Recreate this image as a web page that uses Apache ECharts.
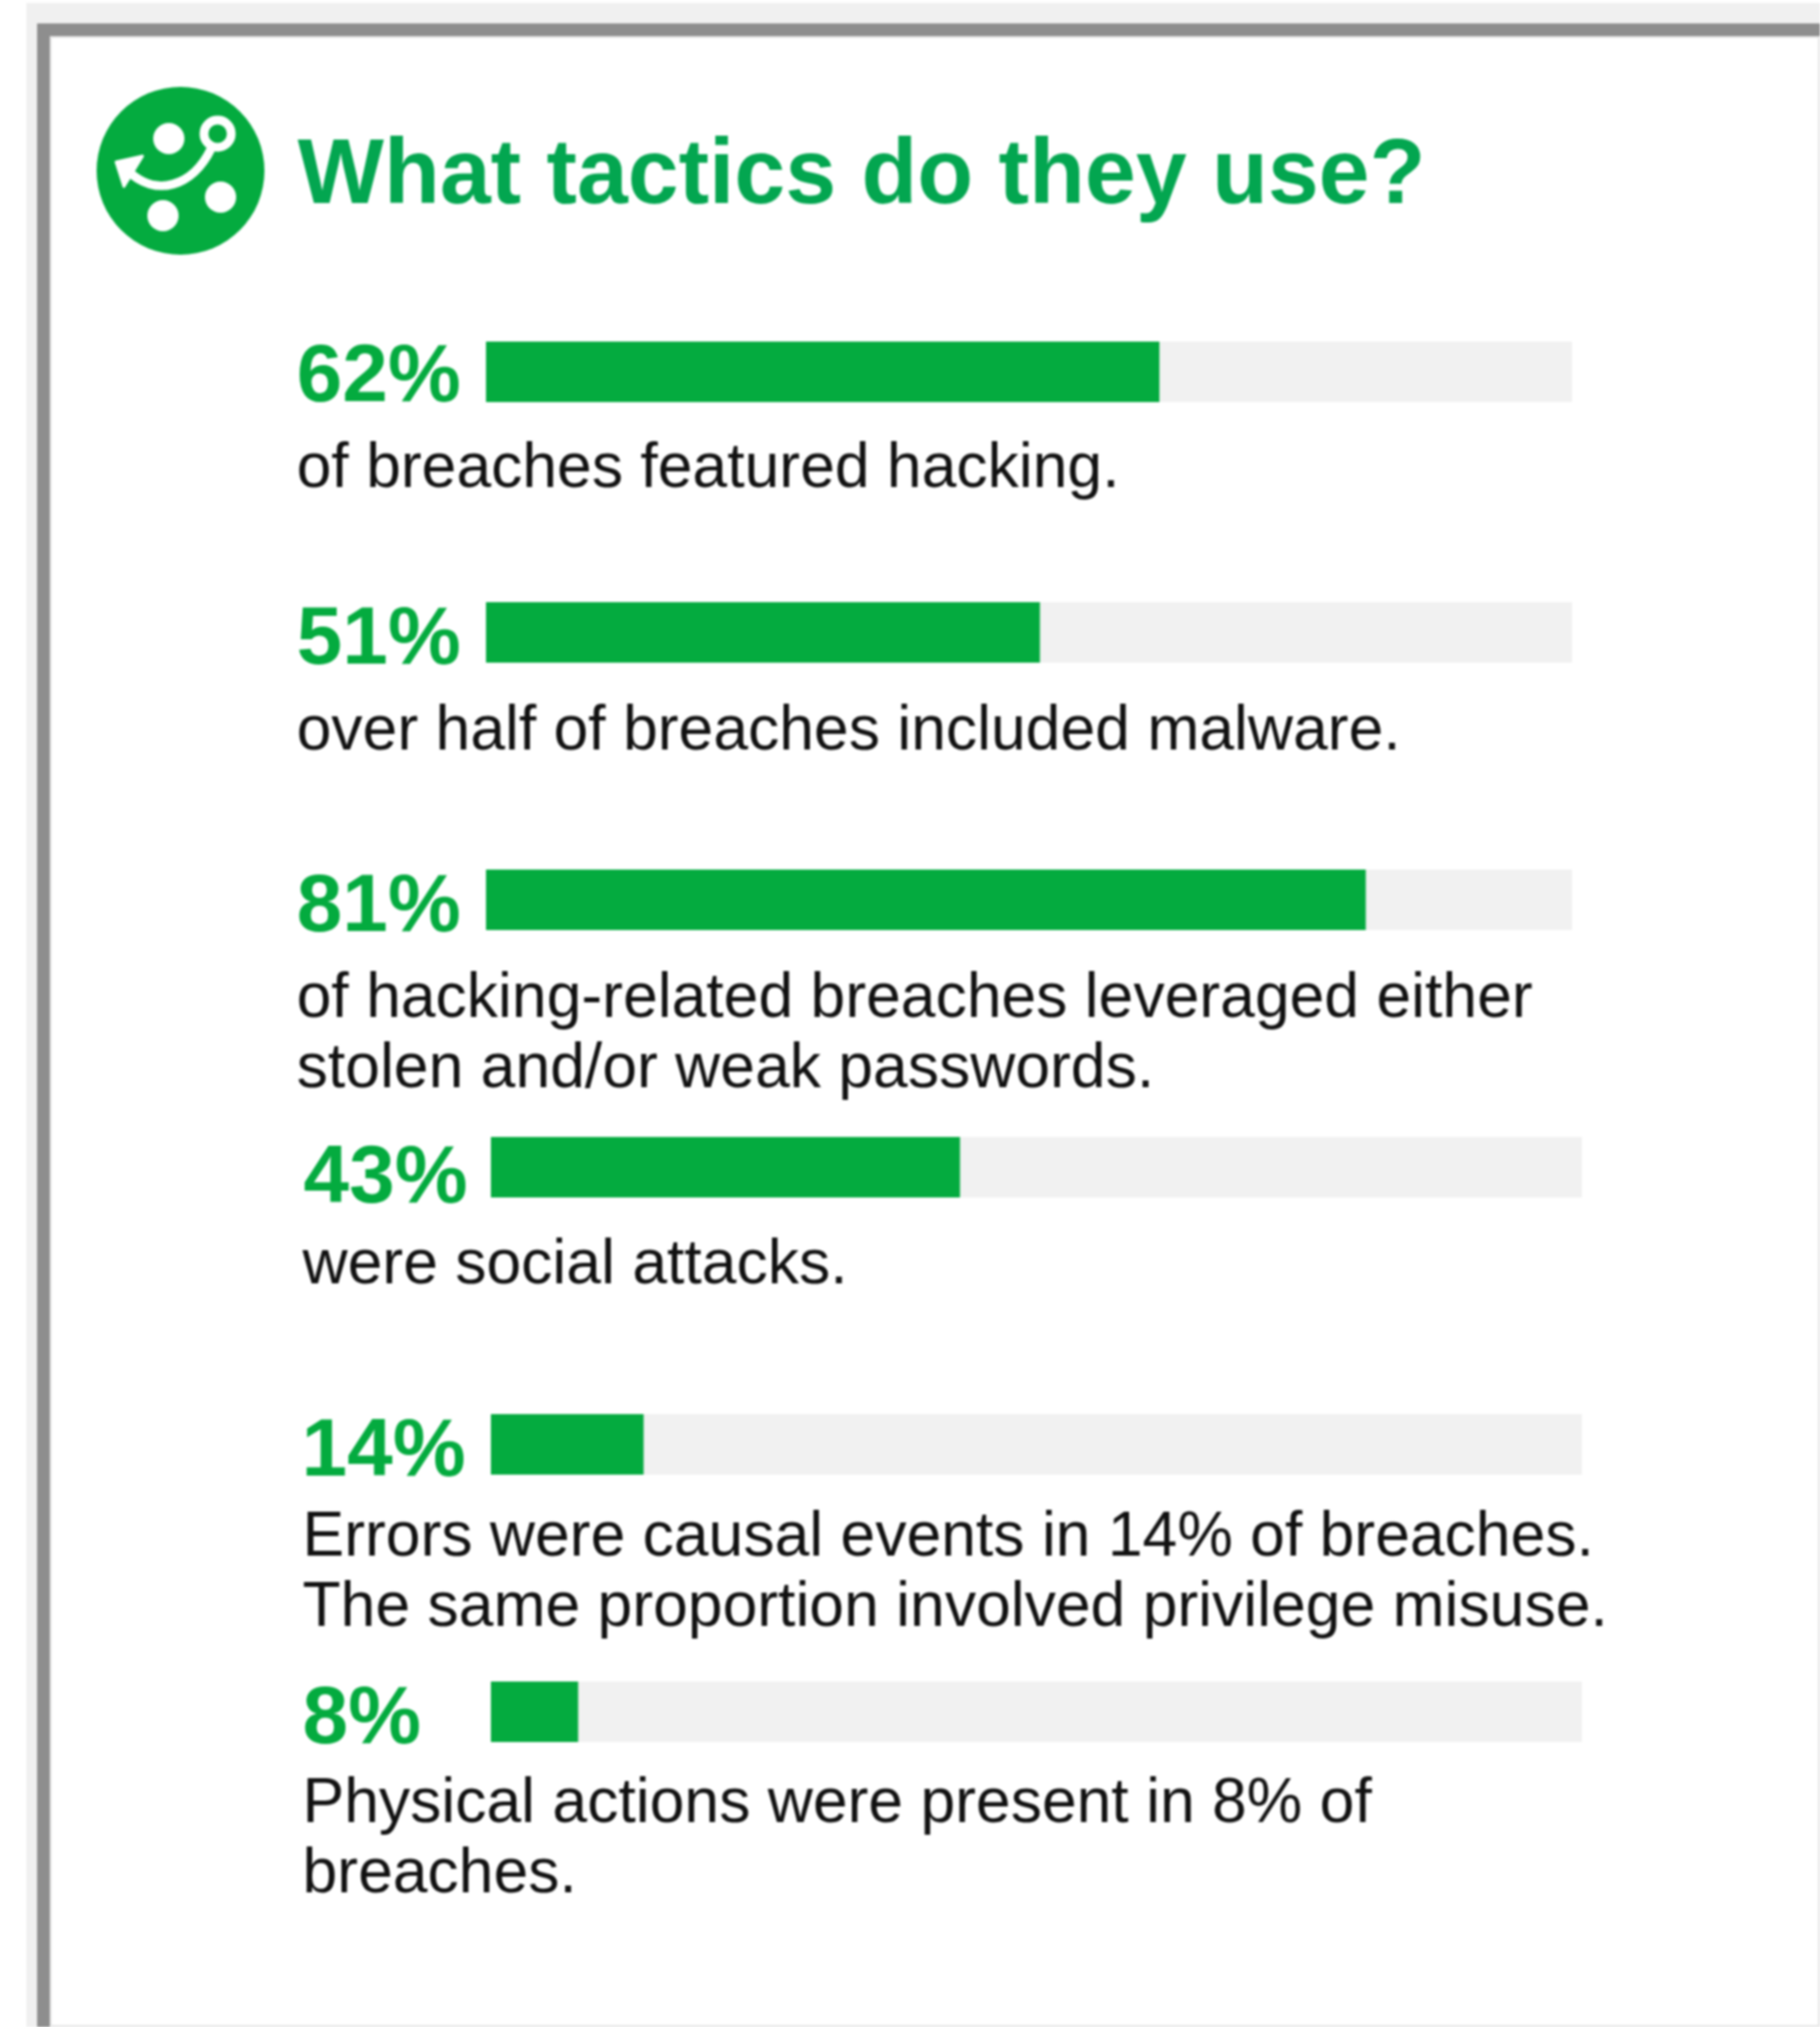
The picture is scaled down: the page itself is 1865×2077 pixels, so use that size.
<!DOCTYPE html>
<html>
<head>
<meta charset="utf-8">
<style>html,body{margin:0;padding:0;background:#fff}#c{width:1865px;height:2077px;filter:blur(0.8px)}</style>
<script src="https://cdn.jsdelivr.net/npm/echarts@6/dist/echarts.min.js"></script>
</head>
<body>
<div id="c"></div>
<script>
const heading = 'What tactics do they use?';
const percents = [62, 51, 81, 43, 14, 8];
const captions = [
  ['of breaches featured hacking.'],
  ['over half of breaches included malware.'],
  ['of hacking-related breaches leveraged either', 'stolen and/or weak passwords.'],
  ['were social attacks.'],
  ['Errors were causal events in 14% of breaches.', 'The same proportion involved privilege misuse.'],
  ['Physical actions were present in 8% of', 'breaches.']
];
const barLeft = [498, 498, 498, 503, 503, 503];
const barWidth = [1113, 1113, 1113, 1118, 1118, 1118];
const barTop = [350, 617, 891, 1165, 1449, 1723];
const barHeight = 62;
const textLeft = [304, 304, 304, 311, 309, 310];
const captionY = [481, 750, 1024, 1297, 1576, 1849];
const labelCenter = [38, 40, 40, 44, 40, 40];
const lineGap = 72.5;
const GREEN = '#04ab3f';
const FONT = '"Liberation Sans", Arial, sans-serif';

const grids = [], xAxes = [], yAxes = [], series = [], texts = [];
percents.forEach((v, i) => {
  grids.push({ left: barLeft[i], top: barTop[i], width: barWidth[i], height: barHeight });
  xAxes.push({ gridIndex: i, type: 'value', min: 0, max: 100, show: false });
  yAxes.push({
    gridIndex: i, type: 'category', data: [v + '%'],
    axisLine: { show: false }, axisTick: { show: false }, splitLine: { show: false },
    axisLabel: { show: false }
  });
  series.push({
    type: 'bar', xAxisIndex: i, yAxisIndex: i, data: [v], barWidth: '100%',
    showBackground: true, backgroundStyle: { color: '#f1f1f1' },
    itemStyle: { color: GREEN }, silent: true,
    label: {
      show: true, formatter: '{c}%', position: [textLeft[i] - barLeft[i], labelCenter[i]],
      align: 'left', verticalAlign: 'middle',
      fontFamily: FONT, fontWeight: 'bold', fontSize: 84, color: GREEN
    }
  });
  captions[i].forEach((line, j) => {
    texts.push({
      type: 'text', x: textLeft[i] === 304 ? 304 : 310, y: captionY[i] + j * lineGap, z: 5,
      style: { text: line, fill: '#111111', font: '64px ' + FONT, verticalAlign: 'middle', align: 'left' }
    });
  });
});

const frame = [
  { type: 'rect', z: -10, shape: { x: 27, y: 3, width: 1838, height: 2074 }, style: { fill: '#f0f0f0' } },
  { type: 'rect', z: -9, shape: { x: 38, y: 24, width: 1827, height: 2053 }, style: { fill: '#8e8e8e' } },
  { type: 'rect', z: -8, shape: { x: 51, y: 37, width: 1814, height: 2040 }, style: { fill: '#e6e6e6' } },
  { type: 'rect', z: -7, shape: { x: 53, y: 39, width: 1810, height: 2036 }, style: { fill: '#ffffff' } }
];
const icon = [
  { type: 'circle', z: 1, shape: { cx: 185, cy: 175, r: 86 }, style: { fill: GREEN } },
  { type: 'circle', z: 2, shape: { cx: 173, cy: 142, r: 16 }, style: { fill: '#fff' } },
  { type: 'circle', z: 2, shape: { cx: 226, cy: 202, r: 16 }, style: { fill: '#fff' } },
  { type: 'circle', z: 2, shape: { cx: 167, cy: 221, r: 16 }, style: { fill: '#fff' } },
  { type: 'circle', z: 2, shape: { cx: 223, cy: 137, r: 14 }, style: { fill: GREEN, stroke: '#fff', lineWidth: 9 } },
  { type: 'bezierCurve', z: 2, shape: { x1: 216, y1: 153, cpx1: 198, cpy1: 190, cpx2: 160, cpy2: 204, x2: 130, y2: 174 },
    style: { fill: 'none', stroke: '#fff', lineWidth: 9 } },
  { type: 'polygon', z: 2, shape: { points: [[119, 166], [146, 160], [127, 191]] }, style: { fill: '#fff', stroke: '#fff', lineWidth: 3, lineJoin: 'round' } }
];

const chart = echarts.init(document.getElementById('c'), null, { renderer: 'canvas' });
chart.setOption({
  animation: false,
  backgroundColor: '#ffffff',
  title: {
    text: heading, left: 305, top: 135, padding: 0,
    textStyle: { fontFamily: FONT, fontWeight: 'bold', fontSize: 93.7, color: '#03a650' }
  },
  grid: grids, xAxis: xAxes, yAxis: yAxes, series: series,
  graphic: { elements: frame.concat(icon, texts) }
});
</script>
</body>
</html>
